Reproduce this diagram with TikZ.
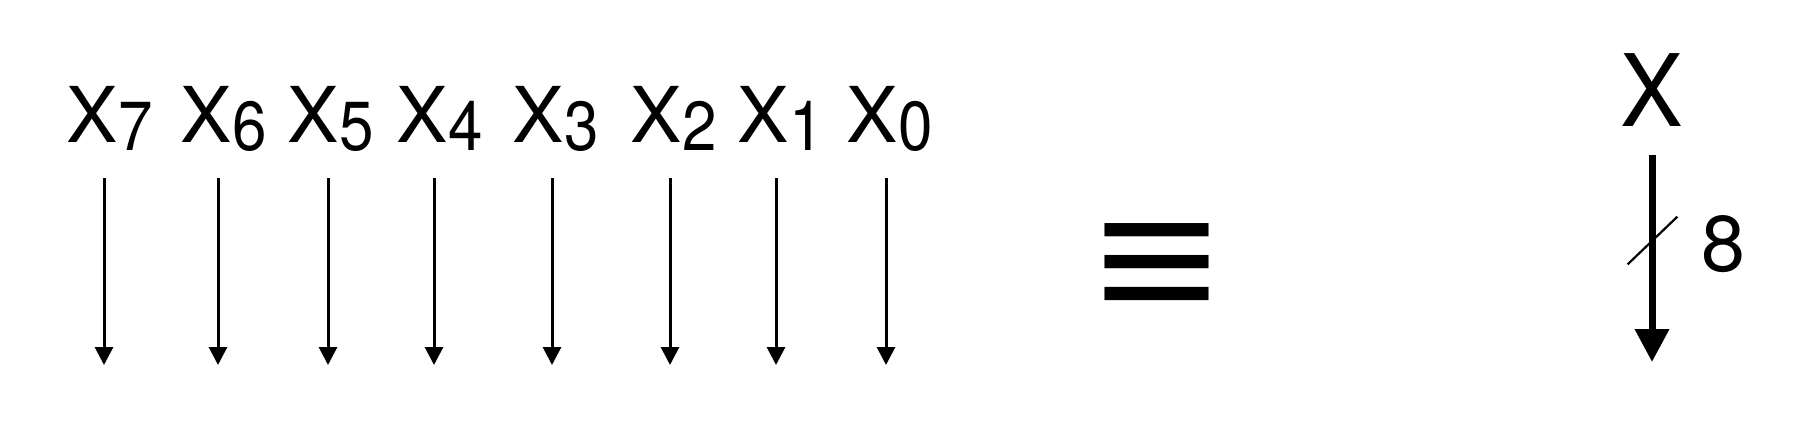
\documentclass[tikz,border=0pt]{standalone}
\usepackage{fontspec}
\setmainfont{TeX Gyre Heros}
\newfontfamily\symfont{Liberation Sans}
\usetikzlibrary{arrows.meta}
\newcommand\bitsub[1]{\raisebox{-8pt}{\fontsize{62}{62}\selectfont\scalebox{1}[1.12]{#1}}}
\begin{document}
\begin{tikzpicture}[x=1pt,y=-1pt,
  lbl/.style={inner sep=0pt,anchor=base west,font=\fontsize{77}{80}\selectfont},
  bitarrow/.style={line width=3pt,-{Triangle[width=18pt,length=18pt]}},
  busarrow/.style={line width=7pt,-{Triangle[width=33pt,length=33pt]}},
  slash/.style={line width=2.2pt}
]
\useasboundingbox (0,0) rectangle (1795,438);
\foreach \lx/\d/\ax in {66.5/7/104,180.5/6/218,287.5/5/328,396.5/4/434,512.5/3/552,630.5/2/670,737.5/1/776,846.5/0/886}{
  \node[lbl] (x\d) at (\lx,142.5) {X\bitsub{\d}};
  \coordinate (t\d) at (\ax,178);
  \coordinate (b\d) at (\ax,365);
  \draw[bitarrow] (t\d) -- (b\d);
}
\node[inner sep=0pt,font=\symfont\fontsize{170}{170}\selectfont] (eq) at (1156.5,273) {\scalebox{1.26}[1.08]{≡}};
\node[inner sep=0pt,anchor=base,font=\fontsize{100}{100}\selectfont] (X) at (1652,126.7) {\scalebox{0.94}[1]{X}};
\coordinate (bt) at (1652,155);
\coordinate (bb) at (1652,362);
\draw[busarrow] (bt) -- (bb);
\coordinate (s1) at (1627.7,264.3);
\coordinate (s2) at (1677.3,216.7);
\draw[slash] (s1) -- (s2);
\node[inner sep=0pt,anchor=base,font=\fontsize{79}{80}\selectfont] (w) at (1723,271) {8};
\end{tikzpicture}
\end{document}
